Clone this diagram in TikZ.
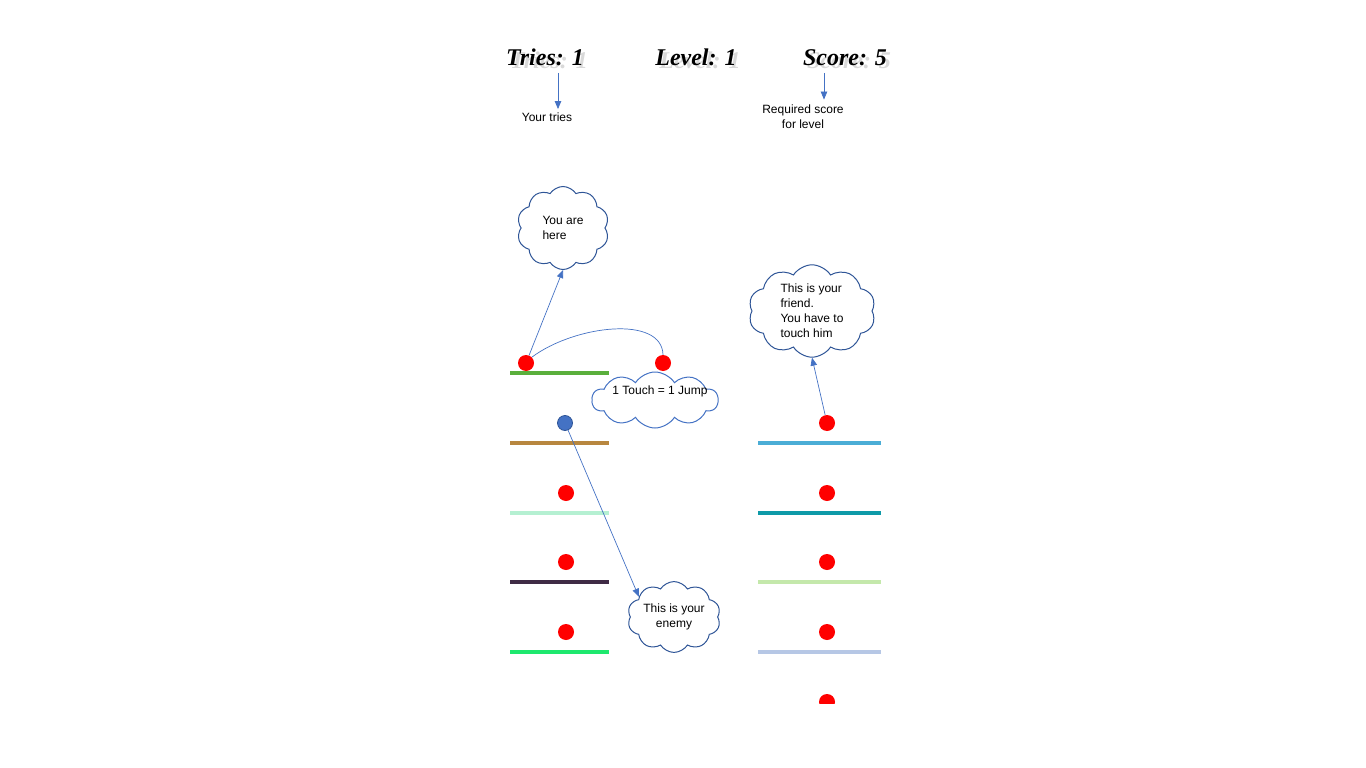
\documentclass[tikz,border=0pt]{standalone}
\usepackage{fontspec}
\setmainfont{Liberation Sans}
\newfontfamily\headfont{Liberation Serif}
\usetikzlibrary{shapes.symbols,arrows.meta}
\definecolor{navy}{HTML}{2F5597}
\definecolor{sky}{HTML}{4472C4}
\tikzset{
  head/.style={anchor=base,font=\headfont\bfseries\itshape\fontsize{24}{24}\selectfont},
  note/.style={font=\fontsize{12}{15}\selectfont,align=center},
  link/.style={sky,line width=0.7pt,-{Triangle[length=8pt,width=6.5pt]}},
  bubble/.style={cloud,cloud puffs=10,cloud puff arc=115,draw=navy,line width=1pt,fill=white,
    inner sep=0pt,font=\fontsize{12}{15}\selectfont},
  reddot/.style={circle,fill=red,minimum size=16pt,inner sep=0pt},
  bluedot/.style={circle,fill=sky,draw=navy,line width=0.8pt,minimum size=15pt,inner sep=0pt}
}
\begin{document}
\begin{tikzpicture}[x=1pt,y=-1pt]
\useasboundingbox (0,0) rectangle (1366,768);
\foreach \n/\t/\x in {tries/Tries: 1/545,level/Level: 1/696,score/Score: 5/845}{
  \node[head,text=gray!30] (\n shade) at (\x+4,69) {\t};
  \node[head] (\n) at (\x,66) {\t};
}
\node[note] (triesNote) at (547,117) {Your tries};
\node[note] (scoreNote) at (803,117) {Required score\\for level};
\draw[link] ([xshift=13pt,yshift=-3pt]tries.south) -- ([xshift=11pt]triesNote.north);
\draw[link] ([xshift=-21pt,yshift=-3pt]score.south) -- ([xshift=21pt,yshift=2pt]scoreNote.north);
% platforms
\foreach \y/\c in {373/5AAF3C,443/B8873F,513/B5F0D2,582/3F2B45,652/1EE86E}{
  \definecolor{plank}{HTML}{\c}
  \draw[line width=4pt,plank] (510,\y) -- (609,\y);
}
\foreach \y/\c in {443/4BADD6,513/0E9AA8,582/C4E8AB,652/B6C7E5}{
  \definecolor{plank}{HTML}{\c}
  \draw[line width=4pt,plank] (758,\y) -- (881,\y);
}
% dots
\node[reddot] (me) at (526,363) {};
\node[reddot] (jump) at (663,363) {};
\node[bluedot] (enemy) at (565,423) {};
\foreach \y [count=\i] in {493,562,632}
  \node[reddot] (left\i) at (566,\y) {};
\node[reddot] (friend) at (827,423) {};
\foreach \y [count=\i] in {493,562,632}
  \node[reddot] (right\i) at (827,\y) {};
\begin{scope}
\clip (780,680) rectangle (880,703);
\node[reddot] (right4) at (827,702) {};
\end{scope}
% clouds
\node[bubble,aspect=1.1,minimum width=92pt,minimum height=83pt,align=left] (hereCloud) at (563,228) {You are\\here};
\node[bubble,aspect=1.55,minimum width=127pt,minimum height=82pt,align=left] (friendCloud) at (812,311) {This is your\\friend.\\You have to\\touch him};
\node[bubble,aspect=2.25,draw=sky,minimum width=126pt,minimum height=56pt] (jumpCloud) at (655,400) {};
\node[note] (jumpText) at (660,391) {1 Touch = 1 Jump};
\node[bubble,aspect=1.47,minimum width=93pt,minimum height=63pt,align=center] (enemyCloud) at (674,617) {This is your\\enemy};
\draw[link] (me) -- (hereCloud.south);
\draw[sky,line width=0.7pt] (me.north east) .. controls (575,325) and (662,315) .. (jump.north);
\draw[link] (friend) -- (friendCloud.south);
\draw[link] (enemy) -- (enemyCloud.150);
\end{tikzpicture}
\end{document}
